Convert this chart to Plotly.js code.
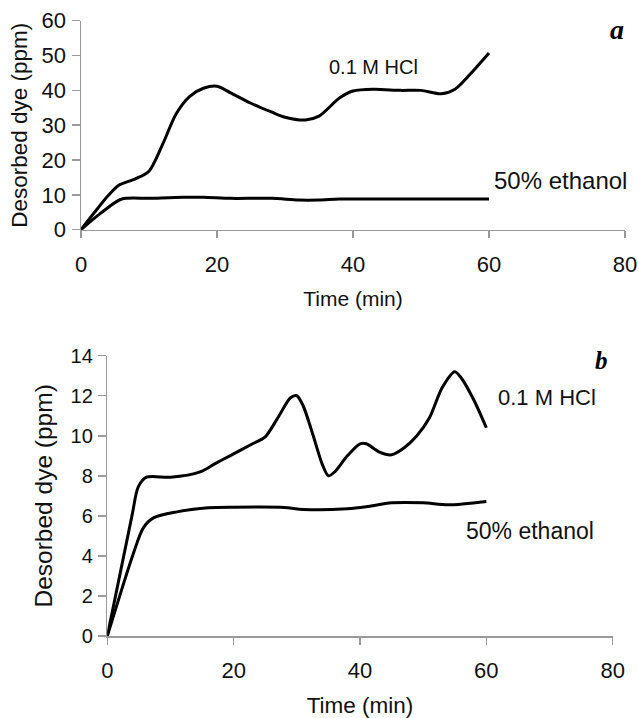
<!DOCTYPE html>
<html>
<head>
<meta charset="utf-8">
<script src="https://cdn.plot.ly/plotly-3.0.1.min.js"></script>
<style>html,body{margin:0;padding:0;background:#fff;}#chart{width:638px;height:718px;}</style>
</head>
<body>
<div id="chart"></div>
<script>
// ---- Panel a ----
const timeA_HCl = [0, 2, 4, 5.5, 8, 10, 12, 14, 16, 18, 20, 22, 25, 28, 30, 33, 35, 38, 40, 43, 47, 50, 53, 55, 58, 60];
const dyeA_HCl  = [0, 5, 9.8, 12.7, 14.6, 16.8, 24.5, 33.3, 38.3, 40.6, 41.2, 39.3, 36.3, 33.8, 32.3, 31.5, 32.6, 37.8, 39.8, 40.3, 40, 40, 39, 40.3, 46.3, 50.7];
const timeA_EtOH = [0, 3, 6, 10, 15, 18, 22, 28, 32, 35, 38, 45, 60];
const dyeA_EtOH  = [0, 4.9, 8.8, 9, 9.3, 9.3, 9, 9, 8.5, 8.5, 8.8, 8.8, 8.8];

// ---- Panel b ----
const timeB_HCl = [0, 3.9, 4.9, 6.2, 10, 14.7, 17, 19.4, 23, 25, 27, 29, 30, 31, 32.5, 34, 35, 36, 38, 40, 41, 43, 45, 47, 49, 51, 53, 55, 56, 58, 60];
const dyeB_HCl  = [0, 6, 7.45, 7.93, 7.93, 8.2, 8.6, 9, 9.6, 9.95, 10.9, 11.9, 12, 11.5, 10.1, 8.6, 8, 8.2, 9, 9.6, 9.6, 9.2, 9.05, 9.4, 10, 10.9, 12.4, 13.2, 12.9, 11.8, 10.4];
const timeB_EtOH = [0, 4.1, 5.7, 7.3, 11, 16, 20, 28, 31, 38, 41, 45, 50, 54, 60];
const dyeB_EtOH  = [0, 4.1, 5.4, 5.9, 6.2, 6.4, 6.43, 6.42, 6.32, 6.35, 6.45, 6.65, 6.65, 6.55, 6.72];

// ---- Tick / label text ----
const xTicksVals = [0, 20, 40, 60, 80];
const yTicksA = [0, 10, 20, 30, 40, 50, 60];
const yTicksB = [0, 2, 4, 6, 8, 10, 12, 14];
const xTitle = 'Time (min)';
const yTitle = 'Desorbed dye (ppm)';
const seriesNames = ['0.1 M HCl', '50% ethanol'];
const panelLabels = ['a', 'b'];

const W = 638, H = 718;
const px = v => v / W;
const py = v => 1 - v / H;

const lineStyle = {color: '#000', width: 3, shape: 'spline', smoothing: 0.8};

const traces = [
  {x: timeA_HCl, y: dyeA_HCl, xaxis: 'x', yaxis: 'y', mode: 'lines', name: seriesNames[0], line: lineStyle},
  {x: timeA_EtOH, y: dyeA_EtOH, xaxis: 'x', yaxis: 'y', mode: 'lines', name: seriesNames[1], line: lineStyle},
  {x: timeB_HCl, y: dyeB_HCl, xaxis: 'x2', yaxis: 'y2', mode: 'lines', name: seriesNames[0], line: lineStyle},
  {x: timeB_EtOH, y: dyeB_EtOH, xaxis: 'x2', yaxis: 'y2', mode: 'lines', name: seriesNames[1], line: lineStyle}
];

const axisGray = '#9a9a9a';
const FONT = 'Liberation Sans, Arial, sans-serif';

function xAxis(domain, anchor, tickSize, titleSize) {
  return {
    domain: domain, anchor: anchor, range: [0, 80], tickvals: xTicksVals,
    showline: true, linecolor: axisGray, linewidth: 1.5, showgrid: false, zeroline: false,
    ticks: 'outside', ticklen: 7, tickcolor: axisGray, tickwidth: 1.5,
    ticklabelstandoff: 7,
    tickfont: {family: FONT, size: tickSize, color: '#111'},
    title: {text: xTitle, font: {family: FONT, size: titleSize, color: '#111'}, standoff: 15},
    automargin: false, fixedrange: true
  };
}
function yAxis(domain, anchor, range, vals, tickSize, titleSize, standoff) {
  return {
    domain: domain, anchor: anchor, range: range, tickvals: vals,
    showline: true, linecolor: axisGray, linewidth: 1.5, showgrid: false, zeroline: false,
    ticks: 'outside', ticklen: 8, tickcolor: axisGray, tickwidth: 1.5,
    ticklabelstandoff: 1,
    tickfont: {family: FONT, size: tickSize, color: '#111'},
    title: {text: yTitle, font: {family: FONT, size: titleSize, color: '#111'}, standoff: standoff},
    automargin: false, fixedrange: true
  };
}

const layout = {
  width: W, height: H,
  margin: {l: 0, r: 0, t: 0, b: 0},
  paper_bgcolor: '#fff', plot_bgcolor: '#fff',
  showlegend: false,
  font: {family: FONT, color: '#111'},
  xaxis: xAxis([px(81), px(625)], 'y', 22, 21),
  yaxis: yAxis([py(229.7), py(20.7)], 'x', [0, 60], yTicksA, 22, 22.5, 7),
  xaxis2: xAxis([px(107.3), px(612.7)], 'y2', 22, 22.5),
  yaxis2: yAxis([py(636), py(355.7)], 'x2', [0, 14], yTicksB, 20, 24.5, 11),
  annotations: [
    {xref: 'paper', yref: 'paper', x: px(374), y: py(67), text: seriesNames[0], showarrow: false,
     xanchor: 'center', yanchor: 'middle', font: {family: FONT, size: 20, color: '#111'}},
    {xref: 'paper', yref: 'paper', x: px(560), y: py(181), text: seriesNames[1], showarrow: false,
     xanchor: 'center', yanchor: 'middle', font: {family: FONT, size: 24, color: '#111'}},
    {xref: 'paper', yref: 'paper', x: px(547), y: py(398), text: seriesNames[0], showarrow: false,
     xanchor: 'center', yanchor: 'middle', font: {family: FONT, size: 22, color: '#111'}},
    {xref: 'paper', yref: 'paper', x: px(530), y: py(531), text: seriesNames[1], showarrow: false,
     xanchor: 'center', yanchor: 'middle', font: {family: FONT, size: 23, color: '#111'}},
    {xref: 'paper', yref: 'paper', x: px(617), y: py(29), text: '<b><i>' + panelLabels[0] + '</i></b>', showarrow: false,
     xanchor: 'center', yanchor: 'middle', font: {family: 'Liberation Serif, Times New Roman, serif', size: 28, color: '#000'}},
    {xref: 'paper', yref: 'paper', x: px(601), y: py(360), text: '<b><i>' + panelLabels[1] + '</i></b>', showarrow: false,
     xanchor: 'center', yanchor: 'middle', font: {family: 'Liberation Serif, Times New Roman, serif', size: 25, color: '#000'}}
  ]
};

Plotly.newPlot('chart', traces, layout, {displayModeBar: false, staticPlot: true});
</script>
</body>
</html>
